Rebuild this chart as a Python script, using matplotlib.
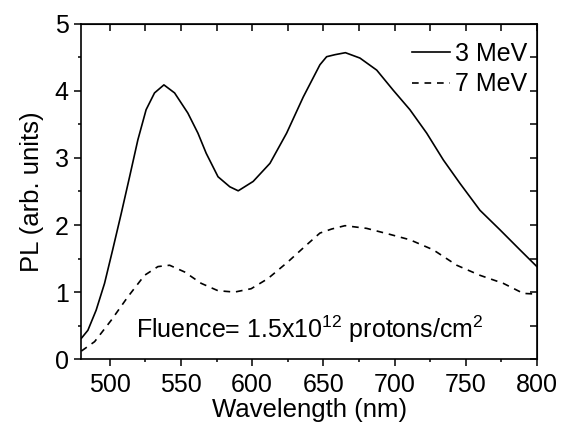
import matplotlib
matplotlib.use("Agg")
import matplotlib.pyplot as plt
from matplotlib.ticker import MultipleLocator

plt.rcParams['font.family'] = ['Liberation Sans', 'DejaVu Sans']
plt.rcParams['mathtext.fontset'] = 'custom'
plt.rcParams['mathtext.rm'] = 'Liberation Sans'
plt.rcParams['mathtext.it'] = 'Liberation Sans'
plt.rcParams['mathtext.bf'] = 'Liberation Sans'

# 3 MeV, solid
wl_3 = [480, 484.6, 490.4, 496.3, 502, 508, 513.9, 519.7, 525.5, 531.4, 538, 545.5,
        554.8, 561.9, 567.7, 576, 584.3, 590.2, 600.7, 612.5, 624.2, 635.9, 647.6,
        652.3, 658.1, 665.5, 675.7, 687.5, 699.1, 710.8, 722.6, 734.3, 746, 760,
        774, 788.1, 800]
pl_3 = [0.31, 0.43, 0.73, 1.13, 1.63, 2.17, 2.72, 3.27, 3.72, 3.97, 4.09, 3.97,
        3.67, 3.37, 3.07, 2.72, 2.57, 2.51, 2.65, 2.92, 3.37, 3.91, 4.39,
        4.51, 4.54, 4.57, 4.49, 4.31, 4.01, 3.72, 3.37, 2.97, 2.62, 2.22,
        1.93, 1.63, 1.38]

# 7 MeV, dashed
wl_7 = [480, 489.3, 501, 512.7, 524.4, 533.8, 542, 552.5, 564.2, 576, 587.7, 599.3,
        611, 625.1, 637, 647.6, 655.8, 665.2, 680.4, 696.8, 710.8, 727.2, 743.7,
        760, 776.4, 790.5, 800]
pl_7 = [0.12, 0.26, 0.58, 0.93, 1.25, 1.38, 1.40, 1.30, 1.13, 1.02, 1.00, 1.05,
        1.20, 1.45, 1.68, 1.88, 1.94, 1.99, 1.95, 1.86, 1.78, 1.63, 1.40,
        1.25, 1.13, 0.98, 0.97]

fig = plt.figure(figsize=(5.61, 4.26), dpi=100)
ax = fig.add_axes([0.145, 0.157, 0.812, 0.787])

ax.plot(wl_3, pl_3, color='black', lw=1.2, label='3 MeV')
ax.plot(wl_7, pl_7, color='black', lw=1.2, linestyle=(0, (4, 3.5)), label='7 MeV')

ax.set_xlim(480, 800)
ax.set_ylim(0, 5)
ax.xaxis.set_major_locator(MultipleLocator(50))
ax.xaxis.set_minor_locator(MultipleLocator(25))
ax.yaxis.set_major_locator(MultipleLocator(1))
ax.yaxis.set_minor_locator(MultipleLocator(0.5))
ax.tick_params(which='major', direction='out', length=5, width=1.1, labelsize=18)
ax.tick_params(axis='x', which='major', pad=5)
ax.tick_params(axis='y', which='major', pad=4)
ax.tick_params(which='minor', direction='out', length=2.5, width=1.1)

# mirrored ticks on top and right, pointing inward
top = ax.secondary_xaxis('top')
top.xaxis.set_major_locator(MultipleLocator(25))
top.tick_params(direction='in', length=5, width=1.1, labeltop=False)
right = ax.secondary_yaxis('right')
right.yaxis.set_major_locator(MultipleLocator(0.5))
right.tick_params(direction='in', length=5, width=1.1, labelright=False)

for s in ax.spines.values():
    s.set_linewidth(1.2)

ax.set_xlabel('Wavelength (nm)', fontsize=18.5, labelpad=1)
ax.set_ylabel('PL (arb. units)', fontsize=18.5, labelpad=8)

ax.legend(loc='upper right', bbox_to_anchor=(1.0, 0.975), frameon=False, fontsize=18,
          handlelength=1.5, handletextpad=0.2, borderaxespad=0.0, labelspacing=0.25)

ax.text(0.12, 0.063, 'Fluence= 1.5x10$^{12}$ protons/cm$^{2}$', transform=ax.transAxes,
        fontsize=18, va='baseline')

fig.savefig('out.png', dpi=100)
